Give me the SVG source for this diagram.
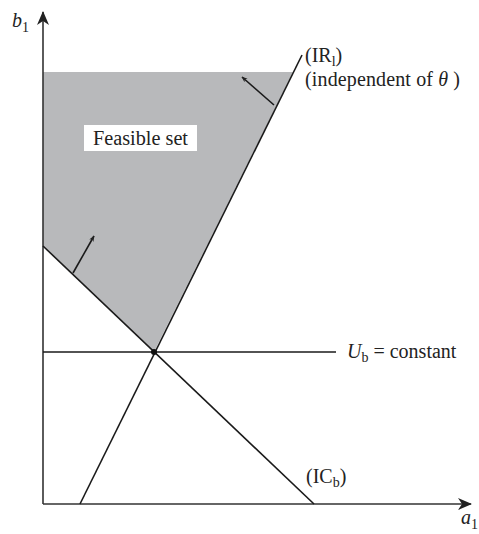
<svg xmlns="http://www.w3.org/2000/svg" width="479" height="534" viewBox="0 0 479 534">
<style>
.ln{stroke:#1a1a1a;stroke-width:1.6;fill:none}
.ax{stroke:#333;stroke-width:1.6;fill:none}
.t{font-family:"Liberation Serif","Times New Roman",serif;font-size:20px;fill:#222}
.it{font-style:italic}
.sub{font-size:14px}
</style>
<defs>
<marker id="ah" viewBox="0 0 10 10" refX="9" refY="5" markerWidth="6" markerHeight="6" orient="auto" markerUnits="userSpaceOnUse">
<path d="M0,1 L10,5 L0,9 L3,5 Z" fill="#222"/>
</marker>
<marker id="axh" viewBox="0 0 14 12" refX="13" refY="6" markerWidth="14" markerHeight="12" orient="auto" markerUnits="userSpaceOnUse">
<path d="M0,0 L14,6 L0,12 L4,6 Z" fill="#222"/>
</marker>
</defs>
<rect width="479" height="534" fill="#fff"/>
<g id="feasible-region">
<polygon points="43,72 293,72 154,352 43,246" fill="#b8b9bb"/>
</g>
<g id="feasible-label">
<rect x="84" y="125" width="113" height="26" fill="#fff"/>
<text class="t" x="93" y="145" textLength="95" lengthAdjust="spacingAndGlyphs">Feasible set</text>
</g>
<g id="connectors">
<line class="ax" x1="43" y1="504" x2="43" y2="12" marker-end="url(#axh)"/>
<line class="ax" x1="43" y1="504" x2="471" y2="504" marker-end="url(#axh)"/>
<line class="ln" x1="80" y1="504" x2="302" y2="55"/>
<line class="ln" x1="43" y1="246" x2="314" y2="504"/>
<line class="ln" x1="43" y1="352" x2="336" y2="352"/>
<line class="ln" x1="274" y1="105" x2="242" y2="77" stroke-width="1.3" marker-end="url(#ah)"/>
<line class="ln" x1="73" y1="273" x2="94" y2="236" stroke-width="1.3" marker-end="url(#ah)"/>
</g>
<g id="intersection">
<circle cx="154" cy="352" r="3" fill="#111"/>
</g>
<g id="axis-labels">
<text class="t it" x="12" y="27">b<tspan class="sub" font-style="normal" dy="5">1</tspan></text>
<text class="t it" x="461" y="524">a<tspan class="sub" font-style="normal" dy="5">1</tspan></text>
</g>
<g id="ir-label">
<text class="t" x="305" y="62">(IR<tspan class="sub" dy="4">l</tspan><tspan dy="-4">)</tspan></text>
<text class="t" x="305" y="86" textLength="155" lengthAdjust="spacing">(independent of <tspan class="it">θ</tspan> )</text>
</g>
<g id="ub-label">
<text class="t" x="347" y="358"><tspan class="it">U</tspan><tspan class="sub" dy="4">b</tspan><tspan dy="-4"> = constant</tspan></text>
</g>
<g id="ic-label">
<text class="t" x="306" y="483">(IC<tspan class="sub" dy="4">b</tspan><tspan dy="-4">)</tspan></text>
</g>
</svg>
